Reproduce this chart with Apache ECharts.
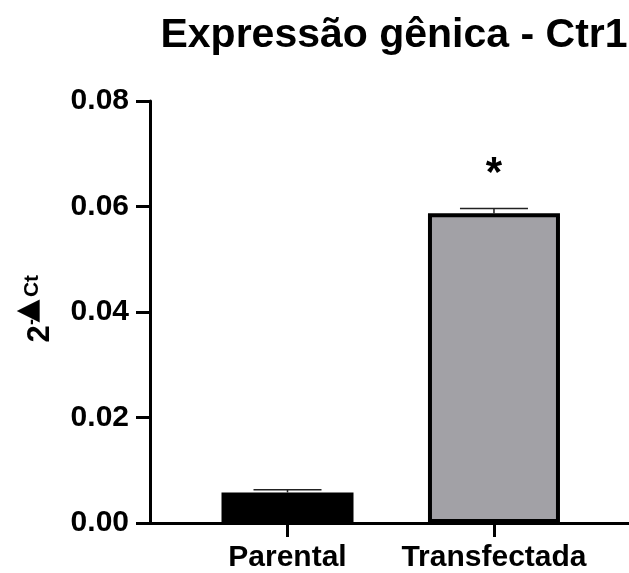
<!DOCTYPE html>
<html>
<head>
<meta charset="utf-8">
<script src="https://cdn.jsdelivr.net/npm/echarts@6/dist/echarts.min.js"></script>
<style>
html,body{margin:0;padding:0;background:#fff;}
#chart{width:629px;height:573px;}
</style>
</head>
<body>
<div id="chart"></div>
<script>
// ---- data ----
const categories = ['Parental', 'Transfectada'];
const means = [0.0058, 0.0587];
const errTop = [0.0063, 0.0596];
const significance = ['', '*'];
const barColors = ['#000000', '#a2a1a6'];

const FONT = '"Liberation Sans", Arial, Helvetica, sans-serif';

const chart = echarts.init(document.getElementById('chart'), null, {renderer: 'canvas'});

const barData = means.map((v, i) => ({
  value: [i, v],
  itemStyle: {color: barColors[i], borderColor: '#000', borderWidth: 4}
}));
const errData = means.map((v, i) => [i, v, errTop[i]]);

const option = {
  animation: false,
  backgroundColor: '#fff',
  title: {
    text: 'Expressão gênica - Ctr1',
    left: 389, top: 7, textAlign: 'center',
    textStyle: {fontFamily: FONT, fontWeight: 'bold', fontSize: 41, color: '#000', lineHeight: 47}
  },
  grid: {left: 150, right: 0, top: 101, bottom: 49, containLabel: false},
  xAxis: {
    type: 'value', min: -0.666, max: 1.654,
    splitLine: {show: false},
    axisLine: {show: true, onZero: false, lineStyle: {color: '#000', width: 3}},
    axisTick: {show: true, customValues: [0, 1], length: 14, lineStyle: {color: '#000', width: 3}},
    axisLabel: {
      show: true, customValues: [0, 1], margin: 20,
      formatter: v => categories[Math.round(v)] || '',
      fontFamily: FONT, fontWeight: 'bold', fontSize: 30, color: '#000'
    }
  },
  yAxis: {
    type: 'value', min: 0, max: 0.08, interval: 0.02,
    splitLine: {show: false},
    axisLine: {show: true, onZero: false, lineStyle: {color: '#000', width: 3}},
    axisTick: {show: true, length: 14, lineStyle: {color: '#000', width: 3}},
    axisLabel: {
      margin: 21, formatter: v => v.toFixed(2),
      fontFamily: FONT, fontWeight: 'bold', fontSize: 30, color: '#000'
    }
  },
  graphic: [{
    type: 'group', x: 40, y: 334, rotation: Math.PI / 2,
    children: [
      {type: 'text', x: 0, y: 0, style: {text: '2', font: 'bold 31px ' + FONT, fill: '#000', align: 'center', verticalAlign: 'middle'}},
      {type: 'text', x: 12, y: -8, style: {text: '-', font: 'bold 18px ' + FONT, fill: '#000', align: 'center', verticalAlign: 'middle'}},
      {type: 'text', x: 23, y: -12, style: {text: '▲', font: 'bold 30px "DejaVu Sans", ' + FONT, fill: '#000', align: 'center', verticalAlign: 'middle'}},
      {type: 'text', x: 48, y: -8, style: {text: 'Ct', font: 'bold 21px ' + FONT, fill: '#000', align: 'center', verticalAlign: 'middle'}}
    ]
  }],
  series: [
    {
      type: 'custom', z: 1,
      data: errData,
      renderItem: function (params, api) {
        const x = api.value(0);
        const top = api.coord([x, api.value(2)]);
        const mid = api.coord([x, api.value(1)]);
        const half = 34;
        return {
          type: 'group',
          children: [
            {type: 'line', shape: {x1: top[0], y1: mid[1], x2: top[0], y2: top[1]}, style: {stroke: '#222', lineWidth: 1.5}},
            {type: 'line', shape: {x1: top[0] - half, y1: top[1], x2: top[0] + half, y2: top[1]}, style: {stroke: '#222', lineWidth: 1.5}}
          ]
        };
      }
    },
    {
      type: 'bar', z: 2,
      barWidth: 132,
      data: barData
    },
    {
      type: 'custom', z: 3,
      data: errTop.map((v, i) => [i, v]),
      renderItem: function (params, api) {
        const p = api.coord([api.value(0), api.value(1)]);
        return {
          type: 'text',
          style: {text: significance[params.dataIndex], x: p[0], y: p[1] - 34, font: 'bold 42px ' + FONT, fill: '#000', align: 'center', verticalAlign: 'middle'}
        };
      }
    }
  ]
};
chart.setOption(option);
</script>
</body>
</html>
